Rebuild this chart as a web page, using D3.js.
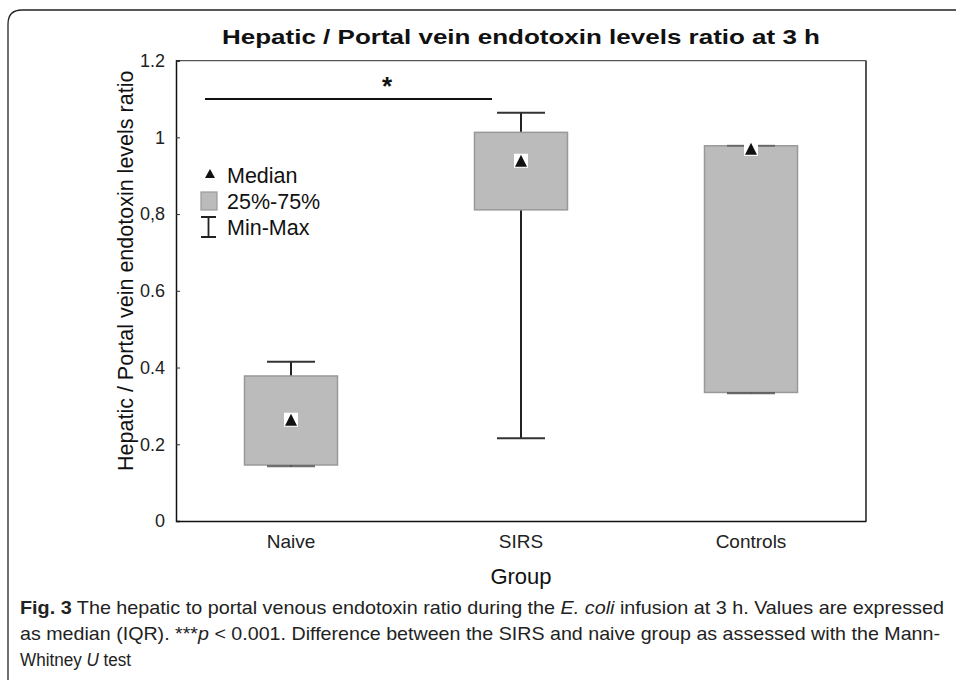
<!DOCTYPE html>
<html><head><meta charset="utf-8">
<script src="https://cdn.jsdelivr.net/npm/d3@7/dist/d3.min.js"></script>
<style>body{margin:0;background:#fff;}svg{display:block;font-family:"Liberation Sans",Arial,sans-serif;}</style>
</head><body>
<svg id="c" width="956" height="680"></svg>
<script>
const groups = ["Naive", "SIRS", "Controls"];
const mins = [0.143, 0.216, 0.333];
const q1s = [0.146, 0.811, 0.335];
const medians = [0.264, 0.939, 0.970];
const q3s = [0.378, 1.013, 0.978];
const maxs = [0.415, 1.064, 0.978];
const yTicks = [0, 0.2, 0.4, 0.6, 0.8, 1, 1.2];
const yTickLabels = ["0", "0.2", "0.4", "0.6", "0,8", "1", "1.2"];
const sigY = 1.1;

const svg = d3.select("#c");
const L = 176, R = 866, T = 60.6, B = 521;
const x = d3.scaleBand().domain(groups).range([L, R]).paddingInner(0).paddingOuter(0);
const y = d3.scaleLinear().domain([0, 1.2]).range([B, T]);
const boxW = 93, capW = 48;

// outer panel border
svg.append("path").attr("d", `M8,690 L8,24 Q8,10 22,10 L960,10`).attr("fill","none").attr("stroke","#222").attr("stroke-width",1.3);

// frame
svg.append("line").attr("x1",L).attr("x2",R).attr("y1",T).attr("y2",T).attr("stroke","#555").attr("stroke-width",1.2);
svg.append("line").attr("x1",R).attr("x2",R).attr("y1",T).attr("y2",B).attr("stroke","#555").attr("stroke-width",2);

// boxes
const data = groups.map((g,i)=>({g, min:mins[i], q1:q1s[i], med:medians[i], q3:q3s[i], max:maxs[i]}));
const gb = svg.append("g").selectAll("g").data(data).join("g")
  .attr("transform", d=>`translate(${x(d.g)+x.bandwidth()/2},0)`);
gb.append("line").attr("x1",0).attr("x2",0).attr("y1",d=>y(d.max)).attr("y2",d=>y(d.q3)).attr("stroke","#222").attr("stroke-width",2);
gb.append("line").attr("x1",0).attr("x2",0).attr("y1",d=>y(d.q1)).attr("y2",d=>y(d.min)).attr("stroke","#222").attr("stroke-width",2);
gb.append("rect").attr("x",-boxW/2).attr("width",boxW).attr("y",d=>y(d.q3)).attr("height",d=>y(d.q1)-y(d.q3))
  .attr("fill","#bbbbbb").attr("stroke","#999").attr("stroke-width",1.5);
gb.append("line").attr("x1",-capW/2).attr("x2",capW/2).attr("y1",d=>y(d.max)).attr("y2",d=>y(d.max)).attr("stroke","#333").attr("stroke-width",2).attr("opacity",d=>d.max===d.q3?0.5:1);
gb.append("line").attr("x1",-capW/2).attr("x2",capW/2).attr("y1",d=>y(d.min)).attr("y2",d=>y(d.min)).attr("stroke","#333").attr("stroke-width",2).attr("opacity",d=>Math.abs(d.min-d.q1)<0.01?0.7:1);
gb.append("rect").attr("x",-7).attr("y",d=>y(d.med)-7).attr("width",14).attr("height",14).attr("fill","#fff");
gb.append("path").attr("d",d=>`M0,${y(d.med)-6} L6,${y(d.med)+6} L-6,${y(d.med)+6} Z`).attr("fill","#111");

// axes
const ya = d3.axisLeft(y).tickValues(yTicks).tickSize(-4).tickPadding(11).tickFormat((d,i)=>yTickLabels[i]);
const yg = svg.append("g").attr("transform",`translate(${L},0)`).call(ya);
yg.attr("font-size",18).attr("font-family","Liberation Sans, Arial, sans-serif");
yg.select(".domain").attr("stroke","#111").attr("stroke-width",1.5);
yg.selectAll(".tick line").attr("stroke","#333");
yg.selectAll(".tick text").attr("fill","#222");

const xa = d3.axisBottom(x).tickSize(0).tickPadding(14);
const xg = svg.append("g").attr("transform",`translate(0,${B})`).call(xa);
xg.attr("font-size",19).attr("font-family","Liberation Sans, Arial, sans-serif");
xg.select(".domain").attr("stroke","#111").attr("stroke-width",1.5);
xg.selectAll(".tick text").attr("fill","#222");

// significance
svg.append("line").attr("x1",205).attr("x2",492).attr("y1",y(sigY)).attr("y2",y(sigY)).attr("stroke","#111").attr("stroke-width",2);
svg.append("text").attr("x",387).attr("y",y(sigY)-4).attr("text-anchor","middle").attr("font-size",26).attr("font-weight","bold").attr("fill","#111").text("*");

// title & labels
svg.append("text").attr("x",222).attr("y",44).attr("font-size",21).attr("font-weight","bold").attr("fill","#111")
  .attr("textLength",598).attr("lengthAdjust","spacingAndGlyphs")
  .text("Hepatic / Portal vein endotoxin levels ratio at 3 h");
svg.append("text").attr("transform",`translate(133,${(T+B)/2-20}) rotate(-90)`).attr("text-anchor","middle").attr("font-size",21.5).attr("fill","#111")
  .text("Hepatic / Portal vein endotoxin levels ratio");
svg.append("text").attr("x",521).attr("y",584).attr("text-anchor","middle").attr("font-size",22).attr("fill","#111").text("Group");

// legend
const lg = svg.append("g").attr("font-size",21.5).attr("fill","#111");
lg.append("path").attr("d","M210,169 L215,178 L205,178 Z").attr("fill","#111");
lg.append("text").attr("x",227).attr("y",183).text("Median");
lg.append("rect").attr("x",201).attr("y",192).attr("width",16).attr("height",18).attr("fill","#bbbbbb").attr("stroke","#999").attr("stroke-width",1.2);
lg.append("text").attr("x",227).attr("y",209).text("25%-75%");
lg.append("path").attr("d","M201,217 L216,217 M208.5,217 L208.5,237 M201,237 L216,237").attr("stroke","#222").attr("stroke-width",1.8).attr("fill","none");
lg.append("text").attr("x",227).attr("y",235).text("Min-Max");

// caption
const cap = svg.append("g").attr("font-family","'Liberation Sans',Arial,sans-serif").attr("font-size",19).attr("fill","#222");
const t1 = cap.append("text").attr("x",20).attr("y",614).attr("textLength",924).attr("lengthAdjust","spacingAndGlyphs");
t1.append("tspan").attr("font-weight","bold").text("Fig. 3");
t1.append("tspan").text(" The hepatic to portal venous endotoxin ratio during the ");
t1.append("tspan").attr("font-style","italic").text("E. coli");
t1.append("tspan").text(" infusion at 3 h. Values are expressed");
const t2 = cap.append("text").attr("x",20).attr("y",640).attr("textLength",920).attr("lengthAdjust","spacingAndGlyphs");
t2.append("tspan").text("as median (IQR). ***");
t2.append("tspan").attr("font-style","italic").text("p");
t2.append("tspan").text(" < 0.001. Difference between the SIRS and naive group as assessed with the Mann-");
const t3 = cap.append("text").attr("transform","translate(20,666) scale(0.9,1)");
t3.append("tspan").text("Whitney ");
t3.append("tspan").attr("font-style","italic").text("U");
t3.append("tspan").text(" test");
</script>
</body></html>
